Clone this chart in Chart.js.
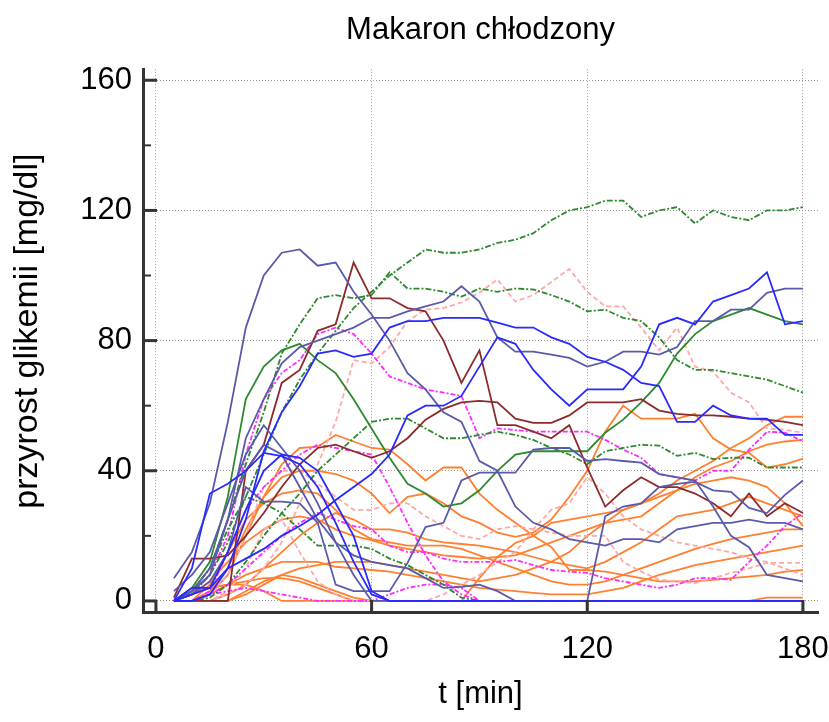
<!DOCTYPE html>
<html>
<head>
<meta charset="utf-8">
<script src="https://cdn.jsdelivr.net/npm/chart.js@4.4.1/dist/chart.umd.min.js"></script>
<style>
  html, body { margin: 0; padding: 0; background: #fff; }
  canvas { display: block; }
</style>
</head>
<body>
<canvas id="glikemiaChart" width="829" height="722"></canvas>
<script>
// sampling times [min]
const times = [5, 10, 15, 20, 25, 30, 35, 40, 45, 50, 55, 60,
               65, 70, 75, 80, 85, 90, 95, 100, 105, 110, 115, 120,
               125, 130, 135, 140, 145, 150, 155, 160, 165, 170, 175, 180];

const xTicks = [0, 60, 120, 180];
const yTicks = [0, 40, 80, 120, 160];
const yMinorTicks = [20, 60, 100, 140];

// green dash-dot
const green1 = [0, 2, 8, 18, 32, 45, 58, 68, 76, 83, 90, 95, 100, 104, 108, 107, 107, 108, 110, 111, 113, 117, 120, 121, 123, 123, 118, 120, 121, 116, 120, 118, 117, 120, 120, 121];
const green2 = [0, 3, 10, 25, 42, 58, 76, 85, 93, 94, 93, 94, 101, 96, 96, 95, 93.5, 96, 95, 96, 95.7, 94, 92, 89, 89.5, 87, 86, 81, 74, 71, 71, 70, 69, 68, 66, 64];
const green3 = [0, 0, 1, 5, 12, 20, 27, 33, 40, 45, 50, 55, 56, 56, 53, 50, 50, 51, 52, 51, 49.5, 47, 45, 42, 46, 47, 48, 47.7, 44.6, 45.5, 43.6, 44, 44, 41, 41, 41];
const green4 = [0, 3, 10, 22, 32, 30, 27, 22, 17, 17, 17, 16, 13, 11, 8, 5, 1, 0, 0, 0, 0, 0, 0, 0, 0, 0, 0, 0, 0, 0, 0, 0, 0, 0, 0, 0];
// green solid
const greenSolid = [0, 4, 12, 32, 62, 72, 77, 79, 74, 70, 62, 53, 44, 36, 33, 29, 30, 34, 40, 45, 46, 46, 46, 46, 51.7, 55.7, 61, 67, 76, 82, 86, 88, 90, 88, 86, 85];
// dark red
const red1 = [0, 0, 0, 0, 40, 48, 67, 71, 83, 85, 104, 93, 93, 90, 89, 80, 67, 77, 54, 54, 52, 50, 54, 41, 29, 34, 38, 35, 35, 33, 30, 26, 33, 26, 30, 27];
const red2 = [1, 13, 13, 14, 20, 27, 35, 42, 47, 48, 46, 44, 46, 50, 55.7, 59, 61, 61.5, 61, 56, 54.7, 54.7, 57, 61, 61, 61, 62, 58.5, 57.5, 57, 57, 56.6, 56, 55.7, 55, 54];
// blue
const blue1 = [0, 2, 4, 10, 25, 46, 58, 66, 76, 77, 75, 76, 84, 86, 86, 87, 87, 87, 85.5, 84, 84, 81, 79, 75, 73.5, 71, 67, 66, 55, 55, 60, 57, 56, 56, 51, 51];
const blue2 = [0, 0, 2, 10, 13, 16, 20, 23, 26.5, 31, 35, 39, 45, 57, 60, 60, 63, 72, 81, 79, 71, 65, 60, 65, 65, 65, 72, 85, 87, 85, 92, 94, 96, 101, 85, 86];
const blue3 = [0, 10, 33, 36, 40, 45.5, 44.5, 42, 35, 24, 12, 2, 0, 0, 0, 0, 0, 0, 0, 0, 0, 0, 0, 0, 0, 0, 0, 0, 0, 0, 0, 0, 0, 0, 0, 0];
const blue4 = [0, 4, 4, 15, 28, 40, 45, 44, 40, 30, 20, 3, 0, 0, 0, 0, 0, 0, 0, 0, 0, 0, 0, 0, 0, 0, 0, 0, 0, 0, 0, 0, 0, 0, 0, 0];
// slate blue
const slate1 = [7, 15, 30, 55, 84, 100, 107, 108, 103, 104, 95, 88, 80, 70, 65, 58, 55, 43, 40, 29, 24, 22, 19, 18, 17, 19, 19, 18, 22, 23, 24, 24, 25, 24, 24, 22];
const slate2 = [0, 3, 8, 25, 50, 62, 73, 78, 80, 82, 84, 87, 87, 89, 90.5, 92, 96.7, 92, 81, 76.6, 76.6, 75.7, 74.7, 72, 73.5, 76.6, 76.6, 75.7, 78, 86, 86, 89.5, 89.5, 94.7, 96, 96];
const slate3 = [0, 3, 10, 25, 40, 48, 45, 35, 25, 18, 14, 12, 11, 10, 7, 4, 4.3, 5, 3, 0, 0, 0, 0, 0, 26, 29, 30, 35, 36, 36.6, 34, 33.5, 28.6, 27, 32.6, 37];
const slate4 = [0, 2, 6, 15, 35, 30.5, 30.5, 30, 24, 5, 3, 3, 3, 11.7, 22.7, 24, 37, 39.4, 39.4, 39.4, 46.5, 47, 47, 43, 43.6, 43, 42.5, 39, 38, 37, 29, 20, 16.5, 8, 7, 6];
const slate5 = [3, 8, 15, 30, 45, 54, 47, 40, 30, 18, 8, 0, 0, 0, 0, 0, 0, 0, 0, 0, 0, 0, 0, 0, 0, 0, 0, 0, 0, 0, 0, 0, 0, 0, 0, 0];
// light pink dashed
const pink1 = [0, 0, 0, 2, 5, 10, 18, 30, 42, 55, 74, 73, 78, 86, 89.5, 90, 91.7, 94.7, 98.8, 92, 94, 98, 102, 95, 90.5, 90.5, 84, 77, 84, 72, 70.5, 64, 61, 53, 52.6, 51.7];
const pink2 = [0, 0, 2, 8, 20, 35, 40, 40, 36, 32, 28, 28, 30, 30, 26, 23, 20, 19, 22, 23, 22, 21, 20, 20, 20, 12, 9, 6.5, 6, 5.5, 7, 8.6, 10, 11.7, 11.7, 11.7];
const pink3 = [0, 0, 0, 3, 10, 22, 25, 15, 6, 2, 0, 0, 0, 0, 0, 2, 5, 8, 12, 15, 22, 28, 30, 38, 33, 26, 22, 20, 18, 17, 16, 15, 13, 12, 10, 8];
// magenta dash-dot
const magenta1 = [0, 2, 8, 20, 45, 62, 70, 74, 82, 84, 82, 76, 69, 67, 65, 64, 63, 50, 53, 52.5, 52, 52, 52, 52, 49.5, 46.5, 44, 39, 38, 37, 40, 40, 46.5, 52, 51.7, 49];
const magenta2 = [0, 0, 3, 15, 28, 35, 40, 45, 48, 47, 46, 45, 35, 24, 14, 6, 2, 0, 0, 0, 0, 0, 0, 0, 0, 0, 0, 0, 0, 0, 0, 0, 0, 0, 0, 0];
const magenta3 = [0, 0, 2, 5, 10, 15, 20, 24, 27, 25, 23, 22, 17, 15, 15, 13, 12, 12, 12, 12.6, 11, 9.5, 9, 8.6, 7, 6, 5, 4, 5, 7, 7, 6.5, 12, 17, 23, 27];
const magenta4 = [0, 0, 2, 3, 4, 3, 2, 1, 0, 0, 0, 0, 2, 4, 5, 5, 4, 0, 0, 0, 0, 0, 0, 0, 0, 0, 0, 0, 0, 0, 0, 0, 0, 0, 0, 0];
// orange
const orange1 = [0, 0, 2, 8, 20, 32, 42, 47, 47.4, 51, 49, 47, 46.5, 42, 37, 41, 41, 33, 28, 24, 20, 16.6, 9.5, 9.5, 9, 8, 7, 6, 6, 6, 6.5, 7, 7.5, 8, 9, 9.5];
const orange2 = [0, 0, 3, 10, 22, 32, 38, 40, 40, 39, 37, 33, 27, 32, 33, 30, 26, 24, 21, 19.7, 21, 25, 32, 40, 52, 60, 56, 56, 56, 57.5, 50, 46.5, 45.5, 41, 42, 43.7];
const orange3 = [0, 0, 0, 0, 2, 5, 8, 10, 11, 12, 12, 12, 11, 10, 9, 8, 7, 6, 7, 8, 10, 12, 15, 20, 24, 28, 30, 33, 37, 40, 43, 47, 50, 54, 56.6, 56.6];
const orange4 = [0, 2, 6, 12, 18, 22, 25, 26, 25, 22, 20, 18.7, 17, 16, 15, 14, 13.5, 13, 13.5, 14, 16, 18, 20, 22, 24, 25, 26, 30, 34, 38, 41, 43, 46, 48, 49, 49.5];
const orange5 = [0, 0, 0, 2, 5, 10, 15, 20, 24, 27, 25, 22, 22, 21, 19, 18, 17.5, 17, 16, 15, 13.5, 12, 11, 10, 12, 15, 18, 22, 26, 27, 28, 30, 32, 30, 28, 26];
const orange6 = [0, 0, 2, 5, 8, 10, 12, 12, 12, 10.5, 10, 9.5, 9, 8, 7, 6, 5, 4, 3.5, 3, 2.5, 2, 2, 2, 3, 4, 6, 8, 9.5, 11, 12, 13, 14, 15, 16, 17];
const orange7 = [0, 0, 0, 0, 3, 6, 8, 7, 5, 3, 1, 0, 0, 0, 0, 0, 0, 7, 13.5, 17.8, 20, 24, 25, 26, 27, 28, 30, 32, 34, 36, 37, 38, 37, 35, 30, 23];
const orange8 = [0, 2, 4, 5, 6, 7, 7, 6, 4, 2, 0, 0, 0, 0, 0, 0, 0, 0, 0, 0, 0, 0, 0, 0, 0, 0, 0, 0, 0, 0, 0, 0, 0, 1, 1, 1];
const orange9 = [0, 3, 4, 5, 5, 3, 0, 0, 0, 0, 0, 0, 0, 0, 0, 0, 0, 0, 0, 0, 0, 0, 0, 0, 0, 0, 0, 0, 0, 0, 0, 0, 0, 0, 0, 0];
const orange10 = [0, 0, 5, 15, 25, 30, 33, 34, 33, 28, 22, 19, 18, 17, 17, 17, 16, 14, 12, 10, 8, 6, 5, 5, 6, 8, 10, 12, 14, 16, 17.5, 19, 20, 21, 22, 22];

const styles = {
    greenDash: { borderColor: '#2f8a2f', borderDash: [6, 2, 2, 2] },
    greenSolid: { borderColor: '#2f8a2f', borderDash: [] },
    red: { borderColor: '#8b2b2b', borderDash: [] },
    blue: { borderColor: '#2a2aff', borderDash: [] },
    slate: { borderColor: '#5a5aaa', borderDash: [] },
    pink: { borderColor: '#ffa8a8', borderDash: [5, 3] },
    magenta: { borderColor: '#ff2cff', borderDash: [5, 2, 2, 2] },
    orange: { borderColor: '#ff8030', borderDash: [] }
};

// first entry is drawn on top
const series = [
    [blue1, 'blue'], [blue2, 'blue'], [blue3, 'blue'], [blue4, 'blue'],
    [slate1, 'slate'], [slate2, 'slate'], [slate3, 'slate'], [slate4, 'slate'], [slate5, 'slate'],
    [red1, 'red'], [red2, 'red'],
    [greenSolid, 'greenSolid'],
    [green1, 'greenDash'], [green2, 'greenDash'], [green3, 'greenDash'], [green4, 'greenDash'],
    [magenta1, 'magenta'], [magenta2, 'magenta'], [magenta3, 'magenta'], [magenta4, 'magenta'],
    [pink1, 'pink'], [pink2, 'pink'], [pink3, 'pink'],
    [orange1, 'orange'], [orange2, 'orange'], [orange3, 'orange'], [orange4, 'orange'], [orange5, 'orange'],
    [orange6, 'orange'], [orange7, 'orange'], [orange8, 'orange'], [orange9, 'orange'], [orange10, 'orange']
];

const datasets = series.map(([values, styleName]) => ({
    data: values.map((v, i) => ({ x: times[i], y: v })),
    borderColor: styles[styleName].borderColor,
    borderDash: styles[styleName].borderDash,
    borderWidth: 1.8,
    pointRadius: 0,
    tension: 0,
    fill: false
}));

// the original figure uses a narrow sans for horizontal text
function fontInstalled(name) {
    const c = document.createElement('canvas').getContext('2d');
    const sample = 'Makaron chłodzony 0123456789';
    c.font = '40px monospace';
    const w1 = c.measureText(sample).width;
    c.font = `40px "${name}", monospace`;
    const w2 = c.measureText(sample).width;
    return Math.abs(w1 - w2) > 0.5;
}
const hasNarrow = fontInstalled('Liberation Sans Narrow');
const mainFamily = "'Liberation Sans', Arial, sans-serif";
const narrowFamily = hasNarrow ? "'Liberation Sans Narrow', 'Liberation Sans', sans-serif" : mainFamily;
const hSize = hasNarrow ? 36 : 31;
const xTickGap = Math.round(650 - 612 - hSize * 0.6);

// ticks drawn inside the plot, as in the original figure
const innerTicks = {
    id: 'innerTicks',
    afterDraw(chart) {
        const { ctx, chartArea, scales } = chart;
        ctx.save();
        ctx.strokeStyle = '#333';
        ctx.lineWidth = 3;
        yTicks.forEach(v => {
            const y = scales.y.getPixelForValue(v);
            ctx.beginPath();
            ctx.moveTo(chartArea.left, y);
            ctx.lineTo(chartArea.left + 14, y);
            ctx.stroke();
        });
        xTicks.forEach(v => {
            const x = scales.x.getPixelForValue(v);
            ctx.beginPath();
            ctx.moveTo(x, chartArea.bottom);
            ctx.lineTo(x, chartArea.bottom - 12);
            ctx.stroke();
        });
        ctx.lineWidth = 2;
        yMinorTicks.forEach(v => {
            const y = scales.y.getPixelForValue(v);
            ctx.beginPath();
            ctx.moveTo(chartArea.left, y);
            ctx.lineTo(chartArea.left + 8, y);
            ctx.stroke();
        });
        ctx.restore();
    }
};

const ctx = document.getElementById('glikemiaChart').getContext('2d');
new Chart(ctx, {
    type: 'line',
    data: { datasets: datasets },
    options: {
        responsive: false,
        animation: false,
        layout: { padding: 0 },
        plugins: {
            legend: { display: false },
            tooltip: { enabled: false },
            title: {
                display: true,
                fullSize: false,
                text: 'Makaron chłodzony',
                color: '#000',
                font: { family: narrowFamily, size: hSize, weight: 'normal', lineHeight: 1.2 },
                padding: { top: Math.round(31 - hSize * 0.6), bottom: Math.round(70 - 31 - hSize * 0.6) }
            }
        },
        scales: {
            x: {
                type: 'linear',
                min: -3.6,
                max: 184.2,
                afterBuildTicks: (scale) => { scale.ticks = xTicks.map(v => ({ value: v })); },
                afterFit: (scale) => {
                    scale.height = 110;
                    scale.paddingLeft = 0;
                    scale.paddingRight = 11;
                },
                grid: { color: '#999', lineWidth: 1, drawTicks: true, tickLength: xTickGap - 2, tickColor: 'rgba(0,0,0,0)' },
                border: { display: true, color: '#333', width: 3, dash: [1, 2] },
                ticks: { color: '#000', padding: 2, maxRotation: 0, font: { family: narrowFamily, size: hSize, lineHeight: 1.2 } },
                title: {
                    display: true,
                    text: 't [min]',
                    color: '#000',
                    font: { family: narrowFamily, size: hSize, lineHeight: 1.2 },
                    padding: { top: 0, bottom: Math.round(722 - 694 - hSize * 0.6) }
                }
            },
            y: {
                type: 'linear',
                min: -3.4,
                max: 163.4,
                afterBuildTicks: (scale) => { scale.ticks = yTicks.map(v => ({ value: v })); },
                afterFit: (scale) => { scale.width = 143; },
                grid: { color: '#999', lineWidth: 1, drawTicks: false },
                border: { display: true, color: '#333', width: 3, dash: [1, 2] },
                ticks: { color: '#000', padding: 11, font: { family: narrowFamily, size: hSize, lineHeight: 1.2 } },
                title: {
                    display: true,
                    text: '  przyrost glikemii [mg/dl]',
                    color: '#000',
                    font: { family: mainFamily, size: 34, lineHeight: 1.2 },
                    padding: { top: 7, bottom: 0 }
                }
            }
        }
    },
    plugins: [innerTicks]
});
</script>
</body>
</html>
